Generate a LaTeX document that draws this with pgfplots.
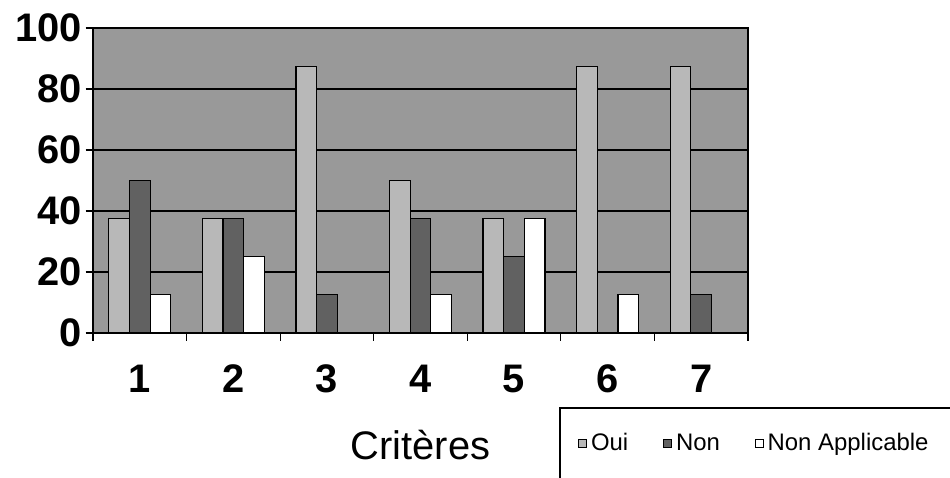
\documentclass[border=0pt]{standalone}
\usepackage{fontspec}
\setmainfont{Liberation Sans}
\usepackage{pgfplots}
\pgfplotsset{compat=1.18}
\definecolor{bgc}{gray}{0.60}
\definecolor{ouic}{gray}{0.72}
\definecolor{nonc}{gray}{0.38}
\begin{document}
\begin{tikzpicture}
\path[use as bounding box] (0,0) rectangle (950bp,478bp);
\begin{axis}[
  at={(93bp,145bp)}, anchor=south west,
  scale only axis, width=655bp, height=305bp,
  ybar=0pt, bar width=0.221,
  xmin=-0.5, xmax=6.5, ymin=0, ymax=100,
  xtick={-0.5,0.5,...,6.5}, xticklabels={},
  extra x ticks={0,1,2,3,4,5,6},
  extra x tick labels={1,2,3,4,5,6,7},
  extra x tick style={major tick length=0pt, grid=none},
  ytick={0,20,40,60,80,100},
  tick align=outside, xtick pos=bottom, ytick pos=left,
  major tick length=7.5bp,
  tick style={black, line width=1.2bp},
  ymajorgrids, grid style={black, line width=1.2bp},
  axis line style={black, line width=1.2bp},
  axis background/.style={fill=bgc},
  ticklabel style={font=\fontsize{40}{40}\selectfont\bfseries},
  /pgf/number format/assume math mode=true,
  xticklabel style={anchor=north, text height=29bp, text depth=0pt, inner sep=0pt, yshift=-30bp},
  xlabel={Critères},
  xlabel style={font=\fontsize{40}{40}\selectfont, anchor=base, yshift=-52bp},
  legend style={at={(axis description cs:0.7405,-0.3607)}, anchor=west,
    draw=none, fill=none, inner sep=0pt,
    font=\fontsize{24}{24}\selectfont,
    nodes={inner xsep=4bp},
    /tikz/every even column/.append style={column sep=31bp}},
  legend columns=-1,
  legend image code/.code={\draw[#1, line width=0.8bp] (0bp,-4bp) rectangle (8bp,4bp);},
]
\addplot[fill=ouic, draw=black, line width=1.2bp] coordinates {(0,37.5) (1,37.5) (2,87.5) (3,50) (4,37.5) (5,87.5) (6,87.5)};
\addplot[fill=nonc, draw=black, line width=1.2bp] coordinates {(0,50) (1,37.5) (2,12.5) (3,37.5) (4,25) (5,0) (6,12.5)};
\addplot[fill=white, draw=black, line width=1.2bp] coordinates {(0,12.5) (1,25) (2,0) (3,12.5) (4,37.5) (5,12.5) (6,0)};
\legend{Oui, Non, Non Applicable}
\end{axis}
\draw[line width=1.2bp] (560bp,-5bp) -- (560bp,70bp) -- (960bp,70bp);
\end{tikzpicture}
\end{document}
